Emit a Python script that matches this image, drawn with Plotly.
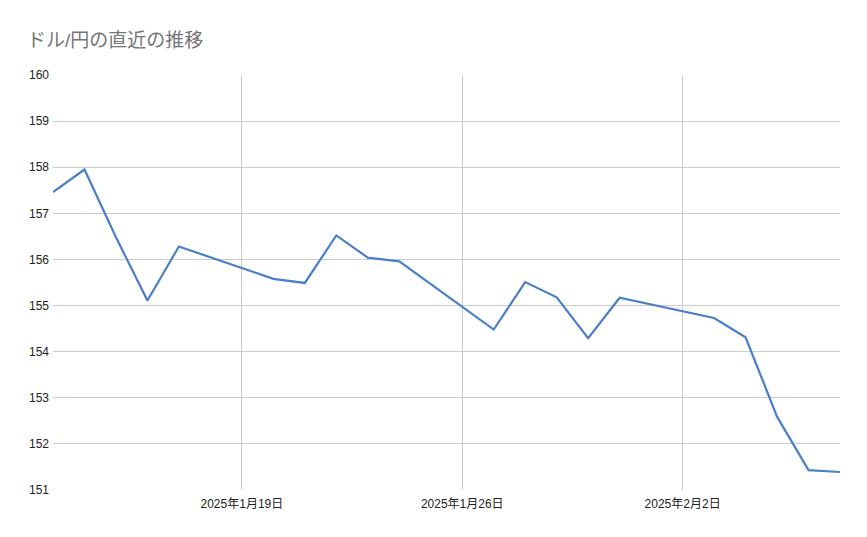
import plotly.graph_objects as go

dates = ["2025-01-13", "2025-01-14", "2025-01-15", "2025-01-16", "2025-01-17",
         "2025-01-20", "2025-01-21", "2025-01-22", "2025-01-23", "2025-01-24",
         "2025-01-27", "2025-01-28", "2025-01-29", "2025-01-30", "2025-01-31",
         "2025-02-03", "2025-02-04", "2025-02-05", "2025-02-06", "2025-02-07"]
usd_jpy = [157.46, 157.95, 156.48, 155.11, 156.28,
           155.58, 155.49, 156.52, 156.04, 155.96,
           154.48, 155.51, 155.18, 154.29, 155.17,
           154.73, 154.31, 152.59, 151.43, 151.39]

x_tickvals = ["2025-01-19", "2025-01-26", "2025-02-02"]
x_ticktext = ["2025年1月19日", "2025年1月26日", "2025年2月2日"]
y_ticks = [151, 152, 153, 154, 155, 156, 157, 158, 159, 160]

title_text = "ドル/円の直近の推移"

FONT = "Arial, 'Liberation Sans', 'Noto Sans CJK JP', sans-serif"

fig = go.Figure()
fig.add_trace(go.Scatter(
    x=dates, y=usd_jpy, mode="lines",
    line=dict(color="#4a7fc7", width=2.2),
    hoverinfo="x+y",
))

fig.update_layout(
    width=867, height=537,
    paper_bgcolor="white", plot_bgcolor="white",
    margin=dict(l=45, r=35, t=67, b=55),
    showlegend=False,
    font=dict(family=FONT, size=12, color="#222222"),
    title=dict(
        text=title_text,
        x=19 / 867, xref="container", xanchor="left",
        y=1 - 32 / 537, yref="container", yanchor="middle",
        font=dict(family=FONT, size=19, color="#757575"),
    ),
    xaxis=dict(
        type="date",
        range=["2025-01-13", "2025-02-07"],
        tickmode="array", tickvals=x_tickvals, ticktext=x_ticktext,
        showgrid=True, gridcolor="#cccccc", gridwidth=1,
        showline=False, zeroline=False, ticks="",
        ticklabelstandoff=5,
        tickfont=dict(size=12, color="#222222"),
    ),
    yaxis=dict(
        range=[151, 160],
        tickmode="array", tickvals=y_ticks,
        showgrid=True, gridcolor="#cccccc", gridwidth=1,
        showline=False, zeroline=False, ticks="",
        ticklabelstandoff=3,
        tickfont=dict(size=12, color="#222222"),
    ),
)

fig.write_html("out.html")
